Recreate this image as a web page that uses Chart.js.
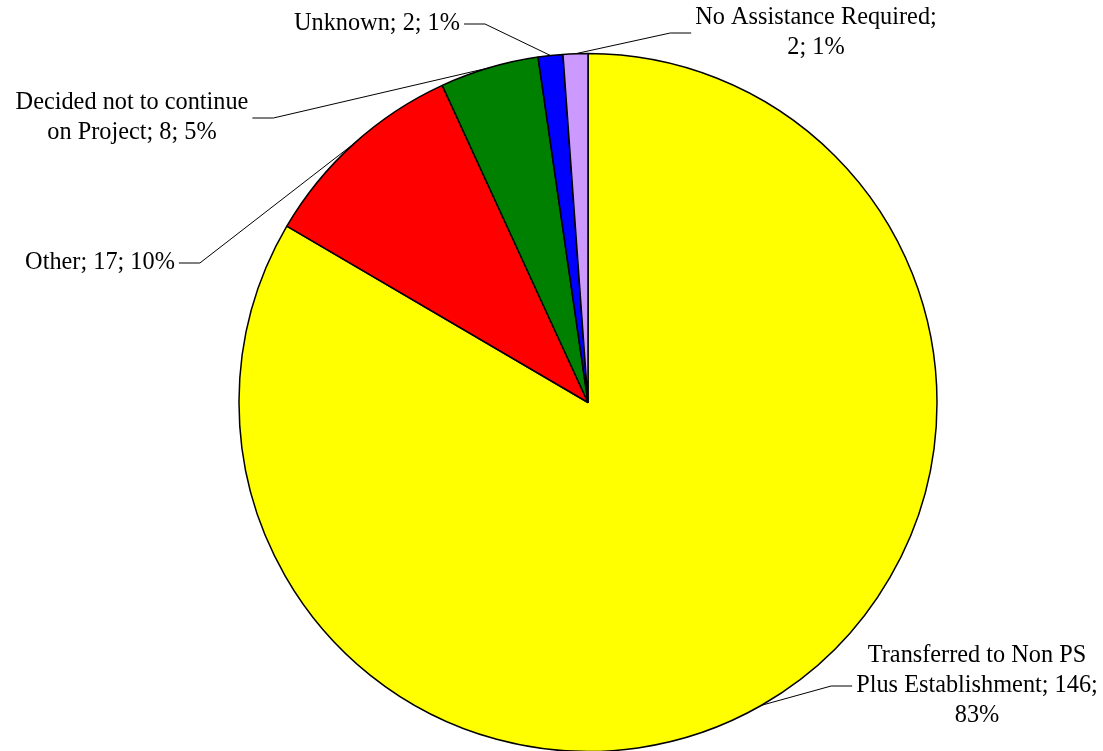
<!DOCTYPE html>
<html>
<head>
<meta charset="utf-8">
<script src="https://cdn.jsdelivr.net/npm/chart.js@4/dist/chart.umd.min.js"></script>
<style>
  html, body { margin: 0; padding: 0; background: #fff; }
  #wrap { width: 1103px; height: 751px; }
</style>
</head>
<body>
<div id="wrap"><canvas id="pie" width="1103" height="751"></canvas></div>
<script>
// slices, clockwise from 12 o'clock
const categories = ['Transferred to Non PS Plus Establishment', 'Other', 'Decided not to continue on Project', 'Unknown', 'No Assistance Required'];
const values = [146, 17, 8, 2, 2];
const percents = [83, 10, 5, 1, 1];
const colors = ['#FFFF00', '#FF0000', '#008000', '#0000FF', '#CC99FF'];

// label blocks: centre x / centre y, which side the leader leaves from, wrap width
const labelX = [977, 100, 132, 377, 816];
const labelY = [686, 263, 118, 24, 33];
const labelSide = ['left', 'right', 'right', 'right', 'left'];
const labelWrap = [245, 400, 245, 400, 250];

const FONT = '24.3px "Liberation Serif", "Times New Roman", serif';
const LINE_H = 30;

function wrap(ctx, text, max) {
  const words = text.split(' ');
  const lines = [];
  let cur = '';
  for (const w of words) {
    const t = cur ? cur + ' ' + w : w;
    if (cur && ctx.measureText(t).width > max) { lines.push(cur); cur = w; }
    else cur = t;
  }
  if (cur) lines.push(cur);
  return lines;
}

const leaderLabels = {
  id: 'leaderLabels',
  afterDraw(chart) {
    const ctx = chart.ctx;
    const arcs = chart.getDatasetMeta(0).data;
    ctx.save();
    ctx.font = FONT;
    ctx.fillStyle = '#000';
    ctx.strokeStyle = '#000';
    ctx.lineWidth = 1;
    ctx.textAlign = 'center';
    ctx.textBaseline = 'middle';
    arcs.forEach((arc, i) => {
      const text = `${categories[i]}; ${values[i]}; ${percents[i]}%`;
      const lines = wrap(ctx, text, labelWrap[i]);
      const widths = lines.map(l => ctx.measureText(l).width);
      const top = labelY[i] - (lines.length - 1) * LINE_H / 2;
      lines.forEach((l, k) => ctx.fillText(l, labelX[i], top + k * LINE_H));

      // leader: short horizontal next to the text, then to the slice edge
      const half = Math.max(...widths) / 2;
      const x0 = labelSide[i] === 'left' ? labelX[i] - half - 4 : labelX[i] + half + 4;
      const x1 = labelSide[i] === 'left' ? x0 - 21 : x0 + 21;
      const p = arc.getProps(['x', 'y', 'startAngle', 'endAngle', 'outerRadius'], true);
      const mid = (p.startAngle + p.endAngle) / 2;
      const ax = p.x + Math.cos(mid) * p.outerRadius;
      const ay = p.y + Math.sin(mid) * p.outerRadius;
      ctx.beginPath();
      ctx.moveTo(x0, labelY[i]);
      ctx.lineTo(x1, labelY[i]);
      ctx.lineTo(ax, ay);
      ctx.stroke();
    });
    ctx.restore();
  }
};

new Chart(document.getElementById('pie'), {
  type: 'pie',
  data: {
    labels: categories,
    datasets: [{
      data: values,
      backgroundColor: colors,
      borderColor: '#000',
      borderWidth: 1.5
    }]
  },
  options: {
    responsive: false,
    animation: false,
    radius: 349,
    layout: { padding: { left: 239, right: 166, top: 54, bottom: 0 } },
    plugins: { legend: { display: false }, tooltip: { enabled: false } }
  },
  plugins: [leaderLabels]
});
</script>
</body>
</html>
